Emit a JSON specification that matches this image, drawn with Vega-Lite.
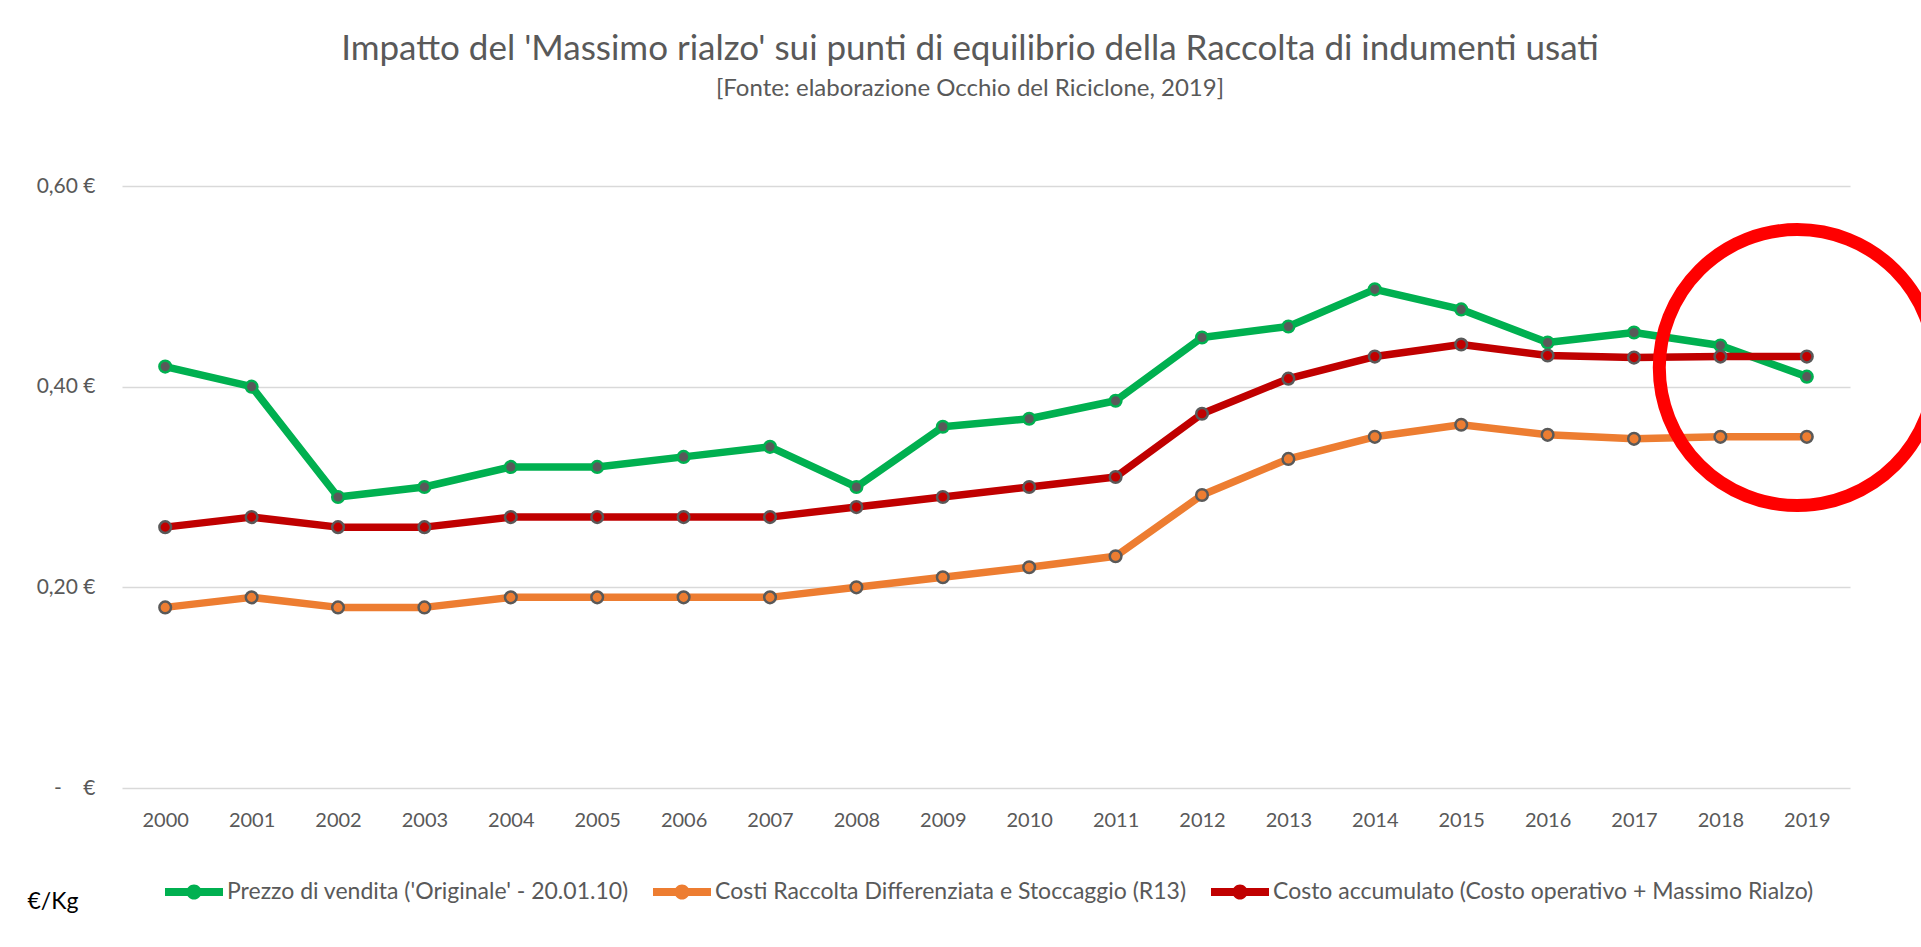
{
  "$schema": "https://vega.github.io/schema/vega-lite/v6.json",
  "autosize": {"type": "none"},
  "width": 1728,
  "height": 602,
  "padding": {"left": 122, "top": 186, "right": 71, "bottom": 159},
  "background": "white",
  "config": {
    "view": {"stroke": null},
    "font": "Lato",
    "axis": {"labelFont": "Lato", "titleFont": "Lato"},
    "legend": {"labelFont": "Lato"}
  },
  "title": {
    "text": "Impatto del 'Massimo rialzo' sui punti di equilibrio della Raccolta di indumenti usati",
    "subtitle": "[Fonte: elaborazione Occhio del Riciclone, 2019]",
    "anchor": "middle",
    "dx": -16,
    "offset": 74,
    "font": "Lato",
    "fontSize": 35,
    "fontWeight": "normal",
    "color": "#595959",
    "subtitleFont": "Lato",
    "subtitleFontSize": 24,
    "subtitleColor": "#595959",
    "subtitlePadding": 10
  },
  "datasets": {
    "main": [
      {"year": 2000, "series": "Prezzo di vendita ('Originale' - 20.01.10)", "value": 0.42},
      {"year": 2001, "series": "Prezzo di vendita ('Originale' - 20.01.10)", "value": 0.40},
      {"year": 2002, "series": "Prezzo di vendita ('Originale' - 20.01.10)", "value": 0.29},
      {"year": 2003, "series": "Prezzo di vendita ('Originale' - 20.01.10)", "value": 0.30},
      {"year": 2004, "series": "Prezzo di vendita ('Originale' - 20.01.10)", "value": 0.32},
      {"year": 2005, "series": "Prezzo di vendita ('Originale' - 20.01.10)", "value": 0.32},
      {"year": 2006, "series": "Prezzo di vendita ('Originale' - 20.01.10)", "value": 0.33},
      {"year": 2007, "series": "Prezzo di vendita ('Originale' - 20.01.10)", "value": 0.34},
      {"year": 2008, "series": "Prezzo di vendita ('Originale' - 20.01.10)", "value": 0.30},
      {"year": 2009, "series": "Prezzo di vendita ('Originale' - 20.01.10)", "value": 0.36},
      {"year": 2010, "series": "Prezzo di vendita ('Originale' - 20.01.10)", "value": 0.368},
      {"year": 2011, "series": "Prezzo di vendita ('Originale' - 20.01.10)", "value": 0.386},
      {"year": 2012, "series": "Prezzo di vendita ('Originale' - 20.01.10)", "value": 0.449},
      {"year": 2013, "series": "Prezzo di vendita ('Originale' - 20.01.10)", "value": 0.46},
      {"year": 2014, "series": "Prezzo di vendita ('Originale' - 20.01.10)", "value": 0.497},
      {"year": 2015, "series": "Prezzo di vendita ('Originale' - 20.01.10)", "value": 0.477},
      {"year": 2016, "series": "Prezzo di vendita ('Originale' - 20.01.10)", "value": 0.444},
      {"year": 2017, "series": "Prezzo di vendita ('Originale' - 20.01.10)", "value": 0.454},
      {"year": 2018, "series": "Prezzo di vendita ('Originale' - 20.01.10)", "value": 0.441},
      {"year": 2019, "series": "Prezzo di vendita ('Originale' - 20.01.10)", "value": 0.41},
      {"year": 2000, "series": "Costi Raccolta Differenziata e Stoccaggio (R13)", "value": 0.18},
      {"year": 2001, "series": "Costi Raccolta Differenziata e Stoccaggio (R13)", "value": 0.19},
      {"year": 2002, "series": "Costi Raccolta Differenziata e Stoccaggio (R13)", "value": 0.18},
      {"year": 2003, "series": "Costi Raccolta Differenziata e Stoccaggio (R13)", "value": 0.18},
      {"year": 2004, "series": "Costi Raccolta Differenziata e Stoccaggio (R13)", "value": 0.19},
      {"year": 2005, "series": "Costi Raccolta Differenziata e Stoccaggio (R13)", "value": 0.19},
      {"year": 2006, "series": "Costi Raccolta Differenziata e Stoccaggio (R13)", "value": 0.19},
      {"year": 2007, "series": "Costi Raccolta Differenziata e Stoccaggio (R13)", "value": 0.19},
      {"year": 2008, "series": "Costi Raccolta Differenziata e Stoccaggio (R13)", "value": 0.20},
      {"year": 2009, "series": "Costi Raccolta Differenziata e Stoccaggio (R13)", "value": 0.21},
      {"year": 2010, "series": "Costi Raccolta Differenziata e Stoccaggio (R13)", "value": 0.22},
      {"year": 2011, "series": "Costi Raccolta Differenziata e Stoccaggio (R13)", "value": 0.231},
      {"year": 2012, "series": "Costi Raccolta Differenziata e Stoccaggio (R13)", "value": 0.292},
      {"year": 2013, "series": "Costi Raccolta Differenziata e Stoccaggio (R13)", "value": 0.328},
      {"year": 2014, "series": "Costi Raccolta Differenziata e Stoccaggio (R13)", "value": 0.35},
      {"year": 2015, "series": "Costi Raccolta Differenziata e Stoccaggio (R13)", "value": 0.362},
      {"year": 2016, "series": "Costi Raccolta Differenziata e Stoccaggio (R13)", "value": 0.352},
      {"year": 2017, "series": "Costi Raccolta Differenziata e Stoccaggio (R13)", "value": 0.348},
      {"year": 2018, "series": "Costi Raccolta Differenziata e Stoccaggio (R13)", "value": 0.35},
      {"year": 2019, "series": "Costi Raccolta Differenziata e Stoccaggio (R13)", "value": 0.35},
      {"year": 2000, "series": "Costo accumulato (Costo operativo + Massimo Rialzo)", "value": 0.26},
      {"year": 2001, "series": "Costo accumulato (Costo operativo + Massimo Rialzo)", "value": 0.27},
      {"year": 2002, "series": "Costo accumulato (Costo operativo + Massimo Rialzo)", "value": 0.26},
      {"year": 2003, "series": "Costo accumulato (Costo operativo + Massimo Rialzo)", "value": 0.26},
      {"year": 2004, "series": "Costo accumulato (Costo operativo + Massimo Rialzo)", "value": 0.27},
      {"year": 2005, "series": "Costo accumulato (Costo operativo + Massimo Rialzo)", "value": 0.27},
      {"year": 2006, "series": "Costo accumulato (Costo operativo + Massimo Rialzo)", "value": 0.27},
      {"year": 2007, "series": "Costo accumulato (Costo operativo + Massimo Rialzo)", "value": 0.27},
      {"year": 2008, "series": "Costo accumulato (Costo operativo + Massimo Rialzo)", "value": 0.28},
      {"year": 2009, "series": "Costo accumulato (Costo operativo + Massimo Rialzo)", "value": 0.29},
      {"year": 2010, "series": "Costo accumulato (Costo operativo + Massimo Rialzo)", "value": 0.30},
      {"year": 2011, "series": "Costo accumulato (Costo operativo + Massimo Rialzo)", "value": 0.31},
      {"year": 2012, "series": "Costo accumulato (Costo operativo + Massimo Rialzo)", "value": 0.373},
      {"year": 2013, "series": "Costo accumulato (Costo operativo + Massimo Rialzo)", "value": 0.408},
      {"year": 2014, "series": "Costo accumulato (Costo operativo + Massimo Rialzo)", "value": 0.43},
      {"year": 2015, "series": "Costo accumulato (Costo operativo + Massimo Rialzo)", "value": 0.442},
      {"year": 2016, "series": "Costo accumulato (Costo operativo + Massimo Rialzo)", "value": 0.431},
      {"year": 2017, "series": "Costo accumulato (Costo operativo + Massimo Rialzo)", "value": 0.429},
      {"year": 2018, "series": "Costo accumulato (Costo operativo + Massimo Rialzo)", "value": 0.43},
      {"year": 2019, "series": "Costo accumulato (Costo operativo + Massimo Rialzo)", "value": 0.43}
    ],
    "highlight": [
      {"year": 2018.89, "value": 0.419}
    ]
  },
  "layer": [
    {
      "data": {"name": "main"},
      "mark": {"type": "line", "strokeWidth": 7.5, "strokeCap": "round", "strokeJoin": "round"},
      "encoding": {
        "x": {
          "field": "year", "type": "quantitative",
          "scale": {"domain": [1999.5, 2019.5], "nice": false, "zero": false},
          "axis": {
            "title": null,
            "values": [2000, 2001, 2002, 2003, 2004, 2005, 2006, 2007, 2008, 2009, 2010, 2011, 2012, 2013, 2014, 2015, 2016, 2017, 2018, 2019],
            "format": "d",
            "grid": false, "ticks": false, "domain": false,
            "labelFontSize": 20, "labelColor": "#595959", "labelPadding": 22,
            "labelFlush": false
          }
        },
        "y": {
          "field": "value", "type": "quantitative",
          "scale": {"domain": [0, 0.6], "nice": false},
          "axis": {
            "title": "€/Kg",
            "titleAngle": 0, "titleAlign": "left", "titleBaseline": "alphabetic",
            "titleX": -95, "titleY": 722,
            "titleFontSize": 23, "titleFontWeight": "normal", "titleColor": "#000000",
            "values": [0, 0.2, 0.4, 0.6],
            "labelExpr": "datum.value == 0 ? '-\u00a0\u00a0\u00a0\u00a0€' : replace(format(datum.value, '.2f'), '.', ',') + ' €'",
            "ticks": false, "domain": false,
            "grid": true, "gridColor": "#d9d9d9", "gridWidth": 1.5,
            "labelFontSize": 21, "labelColor": "#595959", "labelPadding": 27
          }
        },
        "color": {
          "field": "series", "type": "nominal",
          "scale": {
            "domain": ["Prezzo di vendita ('Originale' - 20.01.10)", "Costi Raccolta Differenziata e Stoccaggio (R13)", "Costo accumulato (Costo operativo + Massimo Rialzo)"],
            "range": ["#00B050", "#ED7D31", "#C00000"]
          },
          "legend": {
            "title": null,
            "orient": "none",
            "legendX": 43,
            "legendY": 677,
            "direction": "horizontal",
            "columns": 3,
            "columnPadding": 24,
            "symbolType": "M-1,-0.14H1V0.14H-1Z M0.26,0A0.26,0.26 0 1,1 -0.26,0A0.26,0.26 0 1,1 0.26,0Z",
            "symbolSize": 3364,
            "symbolStrokeWidth": 0,
            "symbolOpacity": 1,
            "labelFontSize": 23,
            "labelColor": "#595959",
            "labelOffset": 4,
            "labelLimit": 700,
            "encode": {
              "symbols": {
                "update": {
                  "fill": {"scale": "color", "field": "value"},
                  "stroke": {"value": "transparent"},
                  "opacity": {"value": 1}
                }
              }
            }
          }
        },
        "order": {"field": "year", "type": "quantitative"}
      }
    },
    {
      "data": {"name": "main"},
      "transform": [{"filter": {"field": "series", "equal": "Prezzo di vendita ('Originale' - 20.01.10)"}}],
      "mark": {"type": "point", "filled": true, "shape": "circle", "size": 135, "strokeWidth": 2.5, "opacity": 1, "fill": "#595959", "stroke": "#00B050"},
      "encoding": {
        "x": {"field": "year", "type": "quantitative"},
        "y": {"field": "value", "type": "quantitative"}
      }
    },
    {
      "data": {"name": "main"},
      "transform": [{"filter": {"field": "series", "equal": "Costi Raccolta Differenziata e Stoccaggio (R13)"}}],
      "mark": {"type": "point", "filled": true, "shape": "circle", "size": 135, "strokeWidth": 2.5, "opacity": 1, "fill": "#ED7D31", "stroke": "#595959"},
      "encoding": {
        "x": {"field": "year", "type": "quantitative"},
        "y": {"field": "value", "type": "quantitative"}
      }
    },
    {
      "data": {"name": "main"},
      "transform": [{"filter": {"field": "series", "equal": "Costo accumulato (Costo operativo + Massimo Rialzo)"}}],
      "mark": {"type": "point", "filled": true, "shape": "circle", "size": 135, "strokeWidth": 2.5, "opacity": 1, "fill": "#C00000", "stroke": "#595959"},
      "encoding": {
        "x": {"field": "year", "type": "quantitative"},
        "y": {"field": "value", "type": "quantitative"}
      }
    },
    {
      "data": {"name": "highlight"},
      "mark": {"type": "point", "shape": "circle", "filled": false, "size": 76176, "strokeWidth": 13, "color": "#FF0000", "opacity": 1, "clip": false},
      "encoding": {
        "x": {"field": "year", "type": "quantitative"},
        "y": {"field": "value", "type": "quantitative"}
      }
    }
  ]
}
